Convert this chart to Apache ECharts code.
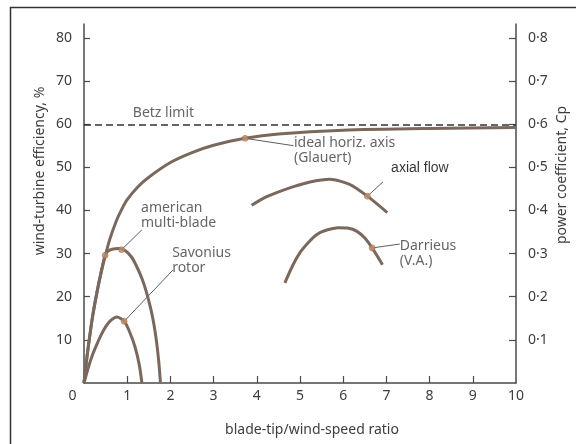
<!DOCTYPE html>
<html>
<head>
<meta charset="utf-8">
<title>Wind turbine efficiency vs tip-speed ratio</title>
<script src="https://cdn.jsdelivr.net/npm/echarts@6/dist/echarts.min.js"></script>
<style>html,body{margin:0;padding:0;background:#fff;}</style>
</head>
<body>
<div id="main" style="width:576px;height:444px;"></div>
<script>
// axis ticks
var ratioTicks = [0, 1, 2, 3, 4, 5, 6, 7, 8, 9, 10];
var effTicks = [10, 20, 30, 40, 50, 60, 70, 80];
var cpTicks = [0.1, 0.2, 0.3, 0.4, 0.5, 0.6, 0.7, 0.8];

// curves: [tip-speed ratio, efficiency %]
var betzLimit = [[0, 59.8], [10, 59.8]];
var idealCurve = [[0, 0], [0.05, 4.5], [0.1, 8.5], [0.2, 15.5], [0.3, 21], [0.4, 25.8], [0.5, 29.8],
    [0.6, 33.4], [0.75, 37.6], [0.875, 40.3], [1, 42.5], [1.25, 45.5], [1.5, 47.7], [2, 51.1],
    [2.5, 53.4], [3, 55.1], [3.73, 56.7], [4.5, 57.7], [6, 58.6], [8, 59.0], [10, 59.2]];
var multiBlade = [[0, 0], [0.05, 4.5], [0.1, 8.5], [0.2, 15.5], [0.3, 21], [0.4, 25.8], [0.49, 29.6],
    [0.55, 30.5], [0.65, 31.0], [0.8, 31.2], [0.95, 30.7], [1.1, 29.2], [1.22, 27], [1.35, 24],
    [1.45, 20.9], [1.55, 17], [1.62, 13.5], [1.68, 9.5], [1.73, 5], [1.77, 0]];
var savonius = [[0, 0], [0.1, 3.6], [0.2, 6.6], [0.3, 9], [0.4, 11.2], [0.5, 13], [0.62, 14.5],
    [0.76, 15.3], [0.93, 14.3], [1.05, 12], [1.18, 8.4], [1.28, 4.2], [1.34, 0]];
var axialFlow = [[3.88, 41.2], [4.15, 42.8], [4.46, 44.1], [4.85, 45.5], [5.23, 46.6], [5.69, 47.2],
    [6.16, 46.0], [6.56, 43.3], [7.02, 39.5]];
var darrieus = [[4.65, 23.2], [4.82, 27.0], [5.0, 30.2], [5.2, 32.6], [5.39, 34.4], [5.6, 35.4],
    [5.89, 36.0], [6.1, 35.9], [6.31, 35.2], [6.5, 33.6], [6.67, 31.3], [6.91, 27.4]];

// little dots on the curves, and the leader lines from them to the notes
var markerPoints = [[3.73, 56.7], [0.49, 29.6], [0.87, 30.9], [0.93, 14.3], [6.56, 43.3], [6.67, 31.3]];
var leaderLines = [
    [[3.73, 56.7], [4.85, 55.0]],
    [[0.87, 30.9], [1.34, 35.5]],
    [[0.93, 14.3], [2.06, 26.2]],
    [[6.56, 43.3], [6.92, 46.6]],
    [[6.67, 31.3], [7.31, 32.2]]
];

// notes: text and top-left anchor in data units
var noteTexts = ['Betz limit', 'ideal horiz. axis\n(Glauert)', 'american\nmulti-blade', 'Savonius\nrotor', 'Darrieus\n(V.A.)'];
var noteAnchors = [[1.13, 64.4], [4.86, 57.4], [1.32, 42.2], [2.04, 31.8], [7.31, 33.6]];
var pastedNote = 'axial flow';
var pastedAnchor = [6.97, 52.4];

var xName = 'blade-tip/wind-speed ratio';
var yLeftName = 'wind-turbine efficiency, %';
var yRightName = 'power coefficient, Cp';

var font = 'Noto Sans';
var ink = '#3d3d3d';
var curveColor = '#7b685d';

var chart = echarts.init(document.getElementById('main'), null, { renderer: 'canvas' });

function curve(data) {
    return {
        type: 'line',
        data: data,
        smooth: 0.25,
        showSymbol: false,
        silent: true,
        lineStyle: { color: curveColor, width: 3 },
        z: 3
    };
}

var series = [
    {
        type: 'line',
        data: betzLimit,
        showSymbol: false,
        silent: true,
        lineStyle: { color: '#333', width: 1.5, type: [7, 4] },
        z: 2
    },
    curve(idealCurve),
    curve(multiBlade),
    curve(savonius),
    curve(axialFlow),
    curve(darrieus)
];

leaderLines.forEach(function (seg) {
    series.push({
        type: 'line',
        data: seg,
        showSymbol: false,
        silent: true,
        lineStyle: { color: '#333', width: 0.8 },
        z: 2
    });
});

series.push({
    type: 'scatter',
    data: markerPoints,
    symbolSize: 6,
    itemStyle: { color: '#c98c5f', borderColor: '#8a6550', borderWidth: 0.6 },
    z: 5
});

series.push({
    type: 'scatter',
    symbolSize: 0,
    silent: true,
    data: noteTexts.map(function (t, i) {
        return { name: t, value: noteAnchors[i] };
    }),
    label: {
        show: true,
        position: [0, 0],
        align: 'left',
        verticalAlign: 'top',
        formatter: function (p) { return p.name; },
        fontFamily: font,
        fontSize: 14,
        lineHeight: 15,
        color: ink
    }
});

series.push({
    type: 'scatter',
    symbolSize: 0,
    silent: true,
    data: [{ name: pastedNote, value: pastedAnchor }],
    label: {
        show: true,
        position: [0, 0],
        align: 'left',
        verticalAlign: 'top',
        formatter: function (p) { return p.name; },
        fontFamily: 'Liberation Sans',
        fontSize: 14,
        color: '#000',
        backgroundColor: '#fff',
        padding: [4, 40, 8, 6]
    }
});

var axisLineStyle = { color: '#4a4a4a', width: 1.5 };

var option = {
    animation: false,
    backgroundColor: '#fff',
    grid: { left: 84, right: 60, top: 24, bottom: 61 },
    xAxis: {
        type: 'value',
        min: 0,
        max: 10,
        interval: 1,
        splitLine: { show: false },
        axisLine: { show: true, lineStyle: axisLineStyle },
        axisTick: { inside: true, length: 7, lineStyle: { color: '#4a4a4a', width: 1.2 }, customValues: ratioTicks.slice(1, 10) },
        axisLabel: {
            margin: 6,
            fontFamily: font,
            fontSize: 14,
            color: ink,
            customValues: ratioTicks,
            formatter: function (v) { return v === 0 ? '{z|0}' : String(v); },
            rich: { z: { fontFamily: font, fontSize: 14, color: ink, padding: [0, 23, 0, 0] } }
        }
    },
    yAxis: [{
        type: 'value',
        position: 'left',
        min: 0,
        max: 83.2,
        interval: 10,
        splitLine: { show: false },
        axisLine: { show: true, lineStyle: axisLineStyle },
        axisTick: { inside: true, length: 6, lineStyle: { color: '#4a4a4a', width: 1.2 }, customValues: effTicks },
        axisLabel: { margin: 12, fontFamily: font, fontSize: 14, color: ink, customValues: effTicks }
    }, {
        type: 'value',
        position: 'right',
        min: 0,
        max: 0.832,
        interval: 0.1,
        splitLine: { show: false },
        axisLine: { show: true, lineStyle: axisLineStyle },
        axisTick: { inside: true, length: 7, lineStyle: { color: '#4a4a4a', width: 1.2 }, customValues: cpTicks },
        axisLabel: {
            margin: 12, fontFamily: font, fontSize: 14, color: ink, customValues: cpTicks,
            formatter: function (v) { return v.toFixed(1).replace('.', '\u00b7'); }
        }
    }],
    graphic: [
        {
            type: 'rect',
            shape: { x: 10.5, y: 7.5, width: 620, height: 500 },
            style: { fill: 'none', stroke: '#333', lineWidth: 1.5 },
            silent: true
        },
        {
            type: 'text', x: 40, y: 171, rotation: Math.PI / 2,
            style: { text: yLeftName, fontFamily: font, fontSize: 14, fill: ink, align: 'center', verticalAlign: 'middle' }
        },
        {
            type: 'text', x: 562, y: 175, rotation: Math.PI / 2,
            style: { text: yRightName, fontFamily: font, fontSize: 14, fill: ink, align: 'center', verticalAlign: 'middle' }
        },
        {
            type: 'text', x: 312, y: 430,
            style: { text: xName, fontFamily: font, fontSize: 14, fill: ink, align: 'center', verticalAlign: 'middle' }
        }
    ],
    series: series
};

chart.setOption(option);
</script>
</body>
</html>
